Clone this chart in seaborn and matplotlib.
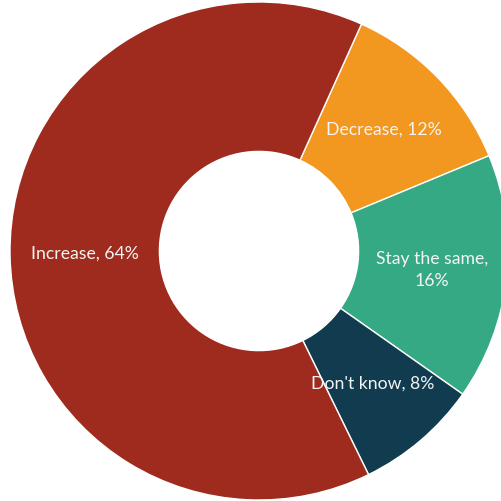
import matplotlib
matplotlib.use("Agg")
import matplotlib.pyplot as plt
import seaborn as sns

# Survey responses, in clockwise drawing order
categories = ["Decrease", "Stay the same", "Don't know", "Increase"]
shares = [12, 16, 8, 64]
label_texts = ["Decrease, 12%", "Stay the same,\n16%", "Don't know, 8%", "Increase, 64%"]
colors = ["#F2971F", "#35A884", "#113C4F", "#9E2B1D"]

sns.set_theme(style="white")
plt.rcParams["font.family"] = ["Lato", "DejaVu Sans"]

fig = plt.figure(figsize=(5.01, 5.01), dpi=100)
ax = fig.add_axes([0, 0, 1, 1])
palette = sns.color_palette(colors)

wedges, texts = ax.pie(
    shares,
    labels=label_texts,
    colors=palette,
    startangle=90 - 24.3,
    counterclock=False,
    radius=1.0,
    labeldistance=0.7,
    wedgeprops=dict(width=0.6, edgecolor="white", linewidth=1.0),
    textprops=dict(color="#F4F4F4", fontsize=12.7, ha="center", va="center"),
)
for t in texts:
    t.set_horizontalalignment("center")
    t.set_verticalalignment("center")
    t.set_linespacing(1.5)

# Place the ring so it fills the canvas and is clipped on the right
scale = 249.0
cx, cy = 259.0, 251.0
ax.set_xlim(-cx / scale, (501 - cx) / scale)
ax.set_ylim(-(501 - cy) / scale, cy / scale)
ax.set_aspect("equal")
ax.axis("off")

fig.savefig("out.png", dpi=100, facecolor="white")
